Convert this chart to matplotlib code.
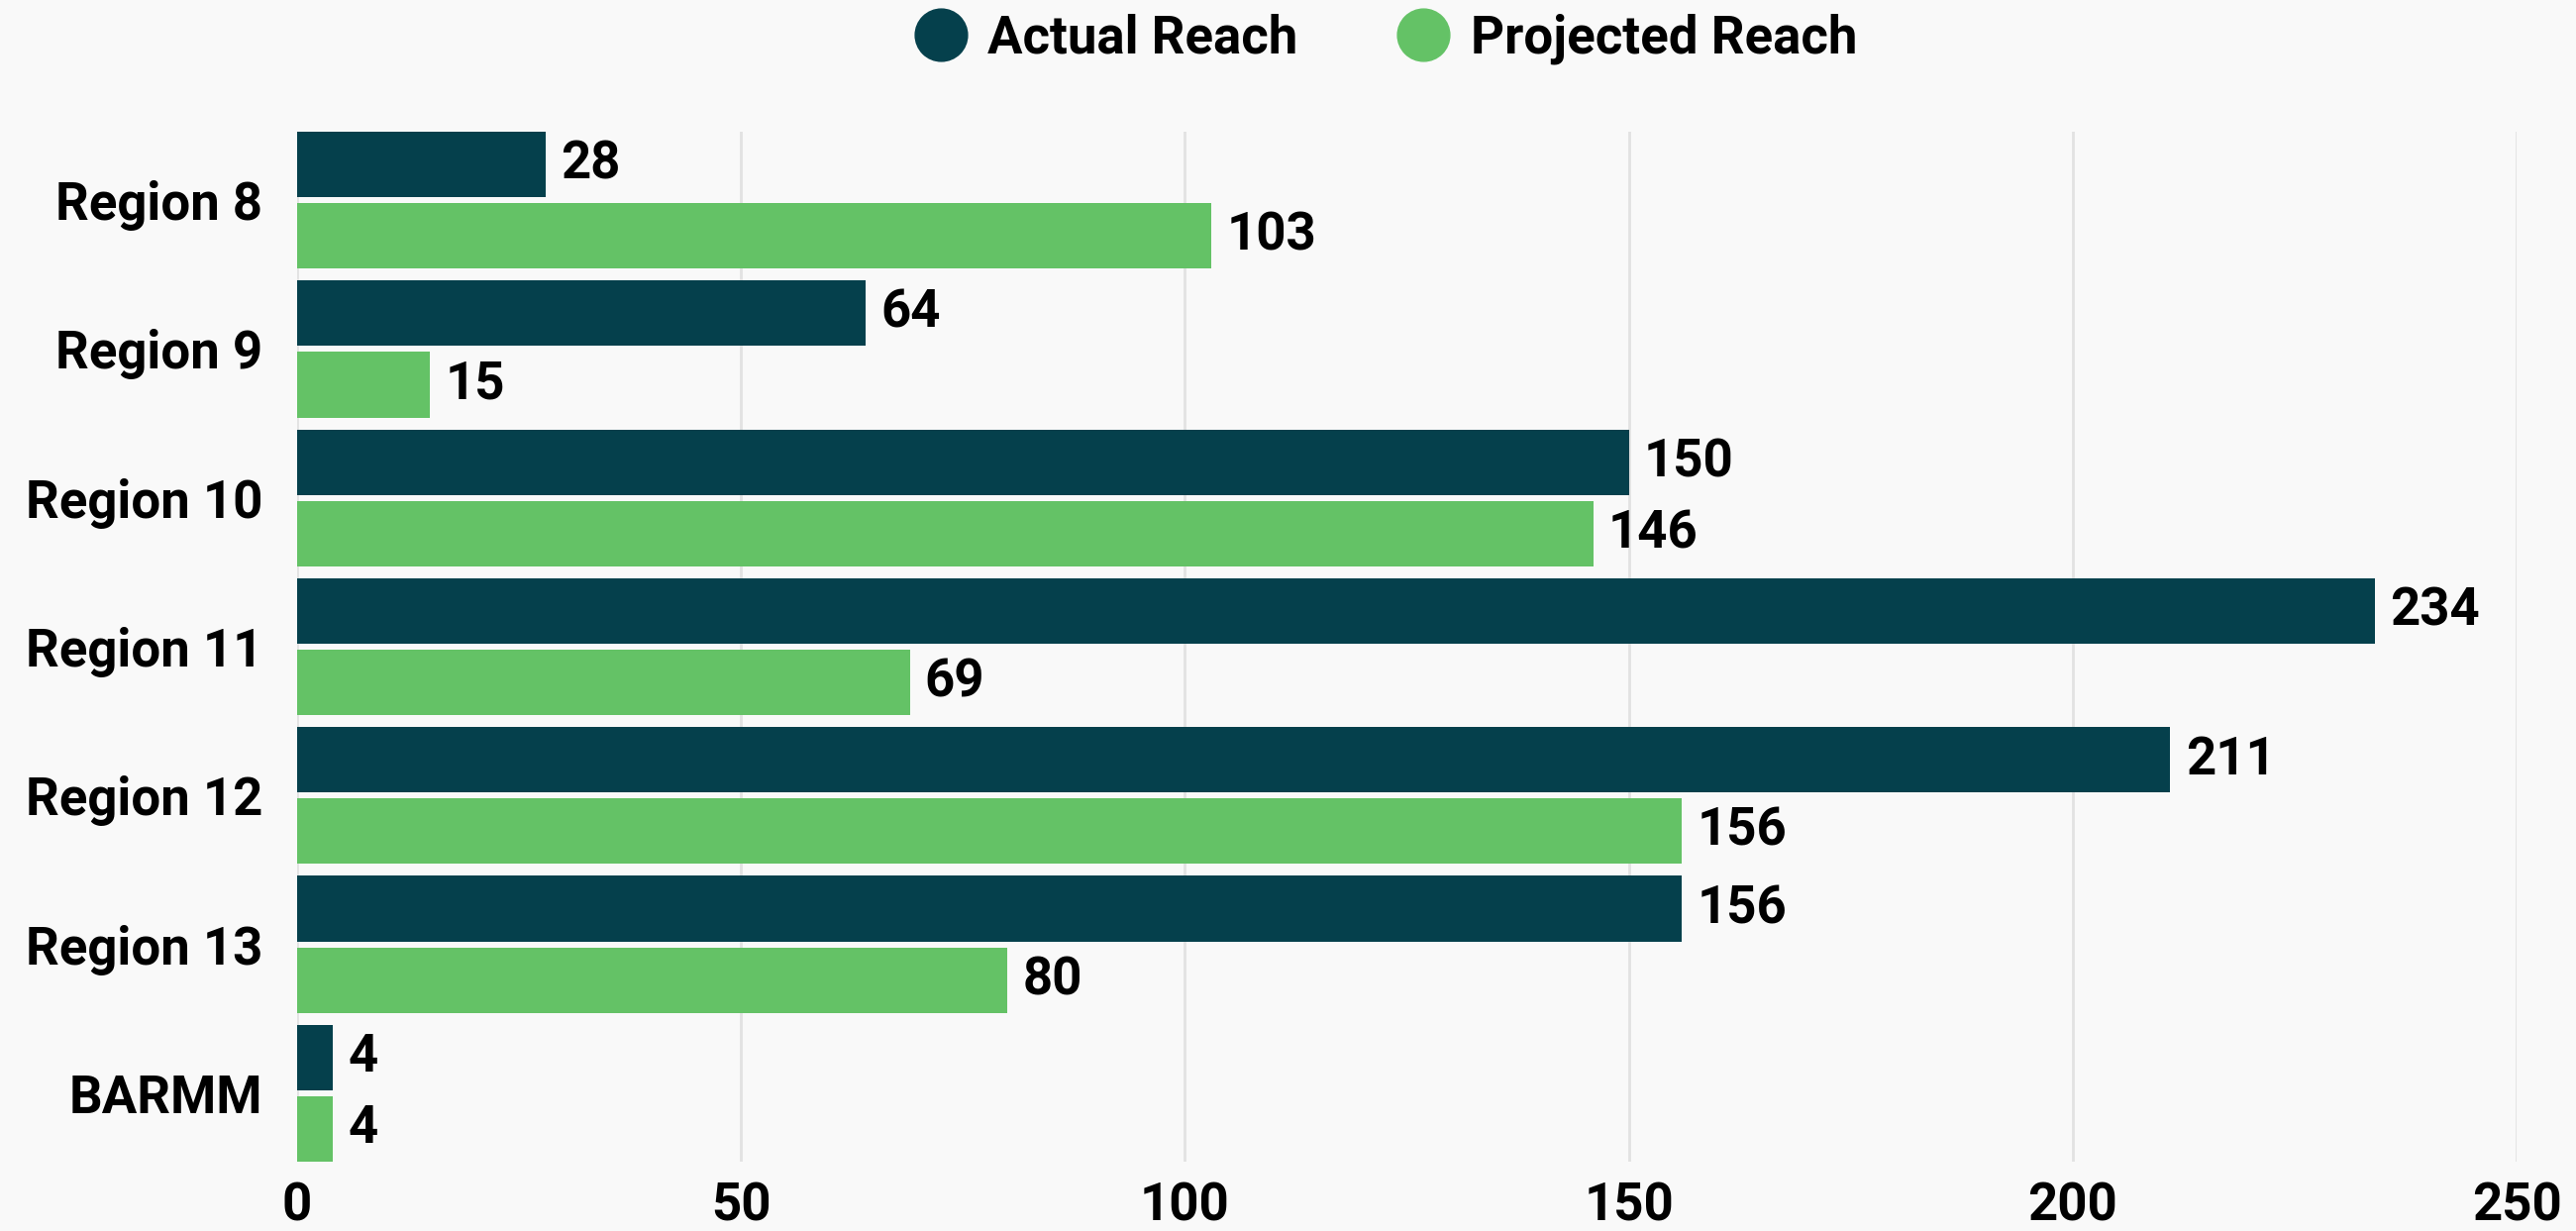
import numpy as np
import matplotlib.pyplot as plt
from matplotlib.lines import Line2D

# Reach per region
regions = ["Region 8", "Region 9", "Region 10", "Region 11", "Region 12", "Region 13", "BARMM"]
actual = [28, 64, 150, 234, 211, 156, 4]
projected = [103, 15, 146, 69, 156, 80, 4]
xticks = [0, 50, 100, 150, 200, 250]

dark = "#05404c"
green = "#64c266"
bg = "#f9f9f9"

plt.rcParams['font.family'] = ['Roboto', 'DejaVu Sans']
plt.rcParams['font.weight'] = 'bold'

W, H = 2601, 1243
fig = plt.figure(figsize=(W / 100, H / 100), dpi=100, facecolor=bg)
ax = fig.add_axes([300 / W, 1 - 1173 / H, (2541 - 300) / W, (1173 - 133) / H])
ax.set_facecolor(bg)

y = np.arange(len(regions))
h = 0.44
off = 0.24
b1 = ax.barh(y - off, actual, height=h, color=dark, zorder=3)
b2 = ax.barh(y + off, projected, height=h, color=green, zorder=3)

ax.bar_label(b1, padding=11, fontsize=38, fontweight='bold', color='black')
ax.bar_label(b2, padding=11, fontsize=38, fontweight='bold', color='black')

ax.set_ylim(len(regions) - 1 + off + h / 2, -off - h / 2)
ax.set_xlim(0, 250)
ax.set_yticks(y)
ax.set_yticklabels(regions, fontsize=38, fontweight='bold')
ax.set_xticks(xticks)
ax.set_xticklabels([str(t) for t in xticks], fontsize=38, fontweight='bold')
ax.tick_params(axis='y', length=0, pad=25)
ax.tick_params(axis='x', length=0, pad=14)
ax.grid(axis='x', color='#e2e2e2', linewidth=2, zorder=0)
for s in ax.spines.values():
    s.set_visible(False)

handles = [
    Line2D([], [], marker='o', linestyle='none', markersize=38, color=dark, label='Actual Reach'),
    Line2D([], [], marker='o', linestyle='none', markersize=38, color=green, label='Projected Reach'),
]
fig.legend(handles=handles, loc='upper center', bbox_to_anchor=(0.538, 1.027), ncol=2,
           frameon=False, prop={'size': 38, 'weight': 'bold'},
           handletextpad=0.4, columnspacing=1.9, handlelength=1.0)

fig.savefig("out.png", dpi=100, facecolor=bg)
